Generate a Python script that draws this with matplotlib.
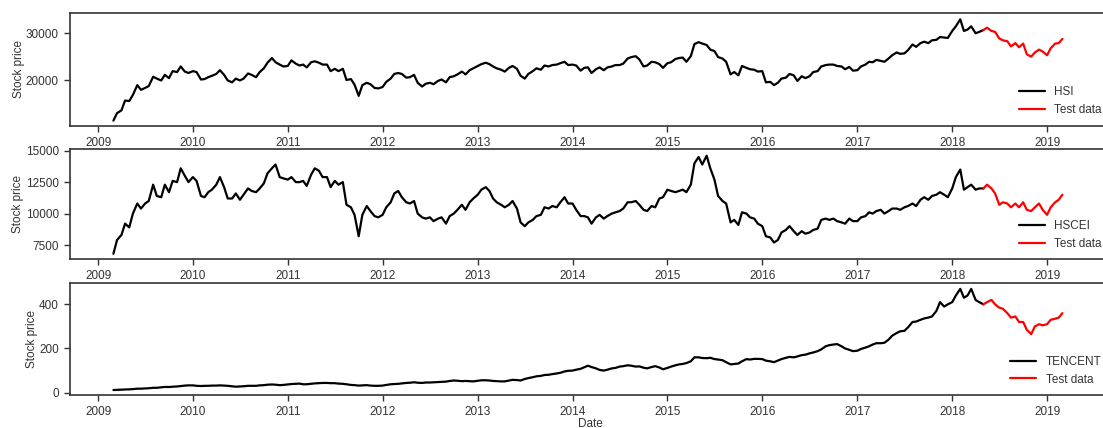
import matplotlib
matplotlib.use("Agg")
import matplotlib.pyplot as plt
import matplotlib.dates as mdates
import numpy as np
import pandas as pd
import seaborn as sns

# semi-monthly closing levels, 2009-03 .. 2019-03
dates = pd.date_range("2009-03-01", "2019-03-01", freq="SMS")
split_date = pd.Timestamp("2018-05-01")

hsi = [
    11300, 12900, 13500, 15600, 15500, 16800, 18900, 17900, 18300, 18700, 20700, 20300, 19900, 21100, 20400, 21900, 21700, 22900, 21800, 21500,
    21900, 21700, 20100, 20200, 20600, 20900, 21300, 22100, 21100, 19900, 19500, 20300, 19900, 20300, 21400, 21100, 20600, 21700, 22500, 23700, 24700, 23800, 23300, 22900,
    23000, 24200, 23500, 23100, 23300, 22700, 23800, 24000, 23700, 23300, 23300, 21900, 22400, 21900, 22400, 20000, 20200, 19000, 16600, 18900, 19400, 19100, 18300, 18200,
    18500, 19600, 20300, 21300, 21500, 21300, 20500, 20600, 21100, 19400, 18600, 19200, 19400, 19100, 19800, 20100, 19500, 20600, 20800, 21200, 21800, 21200, 22100, 22500,
    23000, 23400, 23700, 23400, 22900, 22500, 22200, 21800, 22600, 23000, 22400, 20900, 20300, 21300, 21900, 22500, 22200, 23100, 22900, 23200, 23300, 23600, 23900, 23200,
    23300, 23100, 22000, 22600, 22700, 21500, 22300, 22700, 22100, 22700, 22900, 23200, 23200, 23500, 24600, 24900, 25100, 24400, 22900, 23100, 23900, 23800, 23400, 22600,
    23600, 23800, 24500, 24700, 24800, 23900, 25100, 27700, 28100, 27800, 27500, 26500, 26200, 24900, 24600, 23900, 21200, 21700, 21000, 23000, 22600, 22300, 22200, 21800,
    21900, 19500, 19600, 18900, 19400, 20300, 20500, 21300, 21000, 19800, 20800, 20400, 20800, 21700, 21900, 22900, 23200, 23300, 23300, 23000, 22900, 22300, 22800, 22000,
    22100, 22900, 23300, 23900, 23800, 24300, 24100, 23900, 24600, 25300, 25900, 25600, 25700, 26400, 27600, 27100, 27900, 28200, 27900, 28500, 28600, 29200, 29100, 29000,
    30500, 31500, 33000, 30500, 30800, 31500, 30000, 30300, 30700, 31200, 30500, 30300, 28900, 28500, 28300, 27200, 27900, 27000, 27800, 25500, 25000, 25900, 26500, 26100,
    25300, 26800, 27800, 27900, 28800,
]

hscei = [
    6800, 7900, 8300, 9200, 8900, 10000, 10800, 10400, 10800, 11000, 12300, 11400, 11300, 12300, 11700, 12600, 12500, 13600, 13000, 12500,
    12900, 12600, 11400, 11300, 11700, 11900, 12300, 12900, 12100, 11200, 11200, 11600, 11100, 11500, 12000, 11800, 11700, 12000, 12400, 13200, 13600, 13900, 12900, 12800,
    12700, 12900, 12500, 12500, 12600, 12200, 13100, 13600, 13400, 12900, 12900, 12100, 12600, 12300, 12500, 10700, 10500, 9900, 8200, 9900, 10600, 10200, 9800, 9700,
    9900, 10500, 10900, 11600, 11800, 11300, 10900, 10800, 11000, 10000, 9700, 9600, 9700, 9400, 9600, 9700, 9200, 9800, 10000, 10300, 10700, 10300, 10900, 11200,
    11500, 11900, 12100, 11800, 11200, 10900, 10700, 10500, 10700, 11000, 10400, 9300, 9000, 9300, 9500, 9800, 9900, 10500, 10400, 10600, 10500, 10900, 11300, 10800,
    10800, 10300, 9800, 9800, 9700, 9200, 9700, 9900, 9600, 9800, 10000, 10100, 10200, 10400, 10900, 10900, 11000, 10700, 10300, 10200, 10600, 10500, 11200, 11300,
    11900, 11800, 11700, 11800, 11900, 11700, 12300, 14000, 14500, 13900, 14600, 13600, 12700, 11400, 11000, 10800, 9300, 9500, 9100, 10100, 10000, 9700, 9600, 9200,
    9000, 8200, 8100, 7700, 7900, 8500, 8700, 9000, 8600, 8300, 8600, 8400, 8500, 8700, 8800, 9500, 9600, 9500, 9600, 9400, 9300, 9200, 9600, 9400,
    9400, 9700, 9800, 10100, 10000, 10200, 10300, 10000, 10200, 10400, 10400, 10300, 10500, 10600, 10800, 10600, 11100, 11300, 11100, 11400, 11500, 11700, 11500, 11300,
    12000, 12900, 13500, 11900, 12100, 12300, 11900, 12000, 12000, 12300, 12000, 11600, 10700, 10900, 10800, 10500, 10800, 10500, 10900, 10300, 10200, 10500, 10800, 10300,
    9900, 10500, 10900, 11100, 11500,
]

tencent = [
    12, 12.5, 13.5, 14.5, 15, 16, 18, 18, 19, 20, 22, 22, 24, 26, 25.5, 27, 28, 30, 32, 33,
    33, 31, 30, 31, 31, 32, 32, 33, 32, 31, 29, 27, 28, 29, 31, 31, 31, 33, 34, 36, 37, 36, 34, 35,
    37, 39, 40, 41, 38, 38, 40, 42, 43, 44, 44, 43, 43, 41, 40, 38, 35, 34, 32, 33, 34, 32, 31, 31,
    32, 35, 38, 39, 40, 42, 44, 45, 47, 45, 44, 46, 46, 47, 48, 49, 50, 53, 55, 54, 52, 53, 52, 51,
    54, 56, 56, 55, 53, 52, 51, 51, 55, 58, 57, 55, 62, 66, 70, 74, 76, 80, 81, 84, 87, 90, 96, 99,
    100, 104, 108, 115, 122, 116, 110, 103, 100, 104, 110, 112, 118, 120, 124, 122, 118, 119, 113, 110, 116, 120, 114, 106,
    112, 118, 124, 128, 130, 134, 142, 160, 160, 157, 156, 158, 152, 150, 147, 138, 128, 130, 132, 142, 152, 150, 153, 153,
    152, 145, 142, 138, 145, 152, 158, 162, 160, 164, 170, 172, 178, 182, 188, 196, 210, 215, 218, 220, 210, 200, 194, 188,
    190, 198, 204, 210, 218, 224, 224, 226, 240, 258, 270, 278, 280, 296, 320, 322, 330, 336, 340, 345, 370, 410, 390, 400,
    410, 440, 470, 430, 440, 470, 420, 410, 400, 410, 420, 400, 385, 380, 360, 340, 345, 320, 320, 285, 265, 300, 310, 305,
    310, 330, 335, 340, 360,
]

names = ["HSI", "HSCEI", "TENCENT"]
series = [hsi, hscei, tencent]

sns.set_style("ticks")
plt.rcParams["font.family"] = ["Liberation Sans", "DejaVu Sans"]

W, H = 1103, 428
fig = plt.figure(figsize=(W / 100, H / 100), dpi=100)

# axes boxes in pixels: (top, bottom)
boxes = [(13.3, 125.7), (149.3, 259.3), (282.7, 395.0)]
ylims = [(10214, 34283), (6365, 15111), (-10.6, 498)]
ax_left, ax_right = 70, 1111

text_color = "#333333"
for k, (name, vals) in enumerate(zip(names, series)):
    top, bottom = boxes[k]
    ax = fig.add_axes([ax_left / W, 1 - bottom / H, (ax_right - ax_left) / W, (bottom - top) / H])
    s = pd.Series(vals, index=dates)
    train = s[s.index <= split_date]
    test = s[s.index >= split_date]
    ax.plot(train.index, train.values, color="black", lw=1.6, label=name)
    ax.plot(test.index, test.values, color="red", lw=1.6, label="Test data")

    ax.set_xlim(pd.Timestamp("2008-09-15"), pd.Timestamp("2019-09-04"))
    ax.set_ylim(*ylims[k])
    ax.xaxis.set_major_locator(mdates.YearLocator())
    ax.xaxis.set_major_formatter(mdates.DateFormatter("%Y"))
    ax.set_ylabel("Stock price", fontsize=8.5, color=text_color, labelpad=1)
    ax.tick_params(labelsize=8.5, labelcolor=text_color, length=4.5, width=1, color="#333333")
    for sp in ax.spines.values():
        sp.set_color("#333333")
        sp.set_linewidth(1.2)
    if k == 0:
        ax.set_yticks([20000, 30000])
    elif k == 1:
        ax.set_yticks([7500, 10000, 12500, 15000])
    else:
        ax.set_yticks([0, 200, 400])
        ax.set_xlabel("Date", fontsize=8.5, color=text_color, labelpad=0)
    leg = ax.legend(loc="lower right", frameon=False, fontsize=8.5, handlelength=2.2,
                    borderaxespad=0.4)
    for t in leg.get_texts():
        t.set_color(text_color)

fig.savefig("out.png", dpi=100)
